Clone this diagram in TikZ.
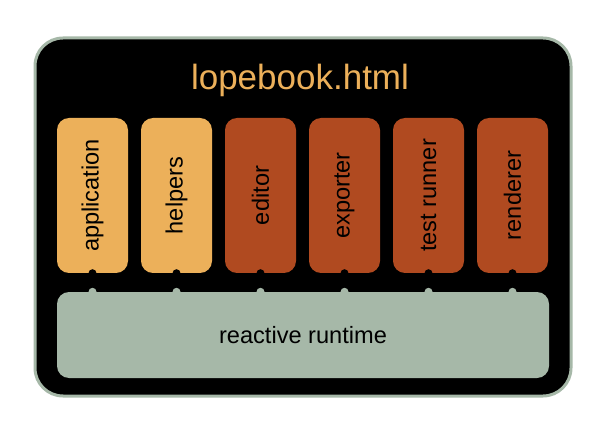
\documentclass[tikz,border=0pt]{standalone}
\usepackage{fontspec}
\setmainfont{Liberation Sans}
\usepackage{xcolor}
\usetikzlibrary{positioning}
\definecolor{lopeorange}{HTML}{ECB05A}
\definecolor{loperust}{HTML}{B04A20}
\definecolor{lopegreen}{HTML}{A6B8A8}
\tikzset{
  module/.style={rounded corners=12pt, minimum width=155pt, minimum height=71pt,
    inner sep=0pt, rotate=90, font=\fontsize{23.6}{26}\selectfont},
  runtimebox/.style={fill=lopegreen, rounded corners=12pt, minimum width=492pt,
    minimum height=86pt, inner sep=0pt, font=\fontsize{23.6}{26}\selectfont}
}

\begin{document}
\begin{tikzpicture}[x=1pt, y=-1pt]
  \useasboundingbox (0,0) rectangle (610,438);
  % Outer file frame
  \draw[lopegreen, line width=3pt, fill=black, rounded corners=28pt] (35,38) rectangle (571,396);
  \node[lopeorange, font=\fontsize{35}{38}\selectfont] (title) at (300,80) {lopebook.html};
  % Upright modules
  \node[module, fill=lopeorange] (app) at (92.5,195.5) {application};
  \node[module, fill=lopeorange] (helpers) at (176.5,195.5) {helpers};
  \node[module, fill=loperust] (editor) at (260.5,195.5) {editor};
  \node[module, fill=loperust] (exporter) at (344.5,195.5) {exporter};
  \node[module, fill=loperust] (runner) at (428.5,195.5) {test runner};
  \node[module, fill=loperust] (renderer) at (512.5,195.5) {renderer};
  % Runtime underneath
  \node[runtimebox] (runtime) at (303,335) {reactive runtime};
  % Plugs: notch under each module, bump on the runtime
  \foreach \m in {app,helpers,editor,exporter,runner,renderer} {
    \fill[black] (\m.west) circle (4pt);
    \fill[lopegreen] (runtime.north -| \m.west) circle (4pt);
  }
\end{tikzpicture}
\end{document}
